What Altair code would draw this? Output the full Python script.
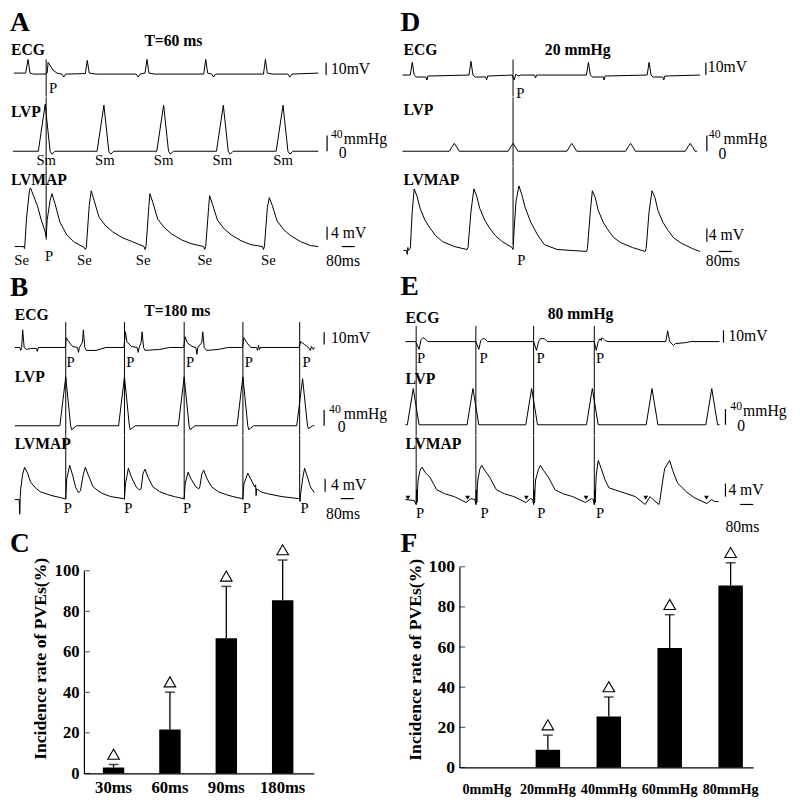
import altair as alt
import pandas as pd

S = 0.98                 # reference-pixel -> page-pixel factor
FONT = "Liberation Serif"
T_DOM = [0, 2400]        # ms across one column
COL_W = 400 * S

# ---------------- trace data (time in ms, ECG/LVMAP in mV, LVP in mmHg) ----------------
A_ECG_T = [36,108,123,135,156,228,240,246,258,276,300,330,342,354,474,486,498,540,786,798,810,840,852,864,900,1200,1212,1224,1248,1260,1272,1566,1578,1590,1620,1716,1728,1740,1902]
A_ECG_V = [0,0,11.2,0,-0.8,-0.8,0,8.8,6.4,2.4,0,-0.8,-3.2,-0.8,-0.4,10.4,0,-0.8,-0.8,-3.2,-0.8,0,11.2,0,-0.8,-0.8,11.2,0,-0.8,-3.2,-0.8,-0.8,11.2,0,-0.8,-0.8,-3.2,-0.8,0]
A_LVP_T = [30,186,228,258,270,288,546,588,618,630,648,912,954,984,996,1014,1278,1320,1350,1362,1380,1644,1686,1716,1728,1746,1902]
A_LVP_V = [0,0,120,0,-7.5,0,0,117.5,0,-7.5,0,0,117.5,0,-7.5,0,0,117.5,0,-7.5,0,0,117.5,0,-7.5,0,0]
A_MAP_T = [42,96,102,114,132,138,156,180,204,228,234,240,258,270,288,318,360,402,468,474,480,498,510,528,558,600,642,702,762,834,840,846,864,870,888,918,960,1002,1062,1122,1200,1206,1212,1230,1236,1254,1284,1326,1368,1428,1488,1560,1566,1572,1590,1602,1620,1650,1692,1734,1794,1854,1902]
A_MAP_V = [0,0,-0.6,9,17.4,18,15.6,12.6,8.1,4.5,3,8.1,14.1,16.2,13.2,7.5,3.6,1.5,-0.3,-0.9,-0.3,12.6,17.1,14.1,9,6.3,4.5,2.7,1.5,0,-0.9,0,12.6,16.2,13.5,8.4,5.7,3.9,2.1,0.9,0,-0.9,0,12,15.6,12.9,8.1,5.4,3.6,1.8,0.6,0,-0.9,0,12,15,12.6,7.8,5.1,3.3,1.5,0.3,0]

B_ECG_T = [42,72,78,84,90,99,114,138,174,180,186,351,357,372,396,426,432,438,456,462,471,480,540,600,711,720,729,756,792,798,804,816,822,831,840,930,990,1077,1086,1098,1128,1152,1158,1164,1188,1194,1203,1218,1290,1350,1437,1446,1464,1488,1524,1530,1536,1542,1548,1785,1794,1818,1842,1854,1860,1872,1878]
B_ECG_V = [0,0,-2.4,0,14.4,0,-1.6,-0.8,-0.8,-3.2,0,0,8,4.8,0.8,0,-4,0,4,14.4,0,-2.4,-2.4,0,0,12.8,4.8,0.8,0,-4,0,4,12.8,0,-2.4,-1.6,0,0,8.8,4,0.8,0,-5.6,0,4,12.8,0,-2.4,-1.6,0,0,8,4,0,0,-2.4,1.6,-1.6,0,0,4.8,2.4,0,-2.4,0.8,-1.6,0]
B_LVP_T = [42,318,354,384,390,420,678,714,744,750,780,1044,1080,1110,1116,1146,1404,1440,1470,1476,1506,1770,1806,1836,1842,1866,1878]
B_LVP_V = [0,0,125,0,-10,0,0,125,0,-10,0,0,125,0,-10,0,0,125,0,-10,0,0,120,0,-7.5,0,0]
B_MAP_T = [42,69,72,75,78,90,102,120,138,168,198,270,348,354,360,378,396,414,432,444,462,474,492,522,552,582,630,708,714,720,738,756,786,804,816,828,840,858,888,930,978,1020,1074,1080,1086,1104,1122,1152,1170,1176,1188,1200,1218,1248,1290,1338,1380,1434,1440,1446,1470,1488,1512,1518,1521,1524,1548,1590,1680,1782,1788,1791,1794,1806,1818,1836,1854,1878]
B_MAP_V = [-0.3,-0.3,-4.8,0.6,3,7.5,9.6,7.8,5.1,3.3,2.1,0.9,0,0,6,10.2,7.2,3.6,1.8,2.4,7.5,9.6,7.2,3.6,2.4,1.5,0.6,0,0,4.5,9.3,6.6,3.6,2.7,3,7.8,9,6.6,3.6,2.1,1.2,0.6,0,0,4.5,8.1,6,3.6,3,3.6,7.5,8.7,6.3,3.6,2.1,1.2,0.6,0,0,4.5,7.8,6,3.6,4.2,0.9,3,2.1,1.5,0.6,0,0,-0.9,1.5,6,9.3,6.6,3.6,1.8]

D_ECG_T = [12,60,72,84,96,156,162,168,420,432,444,456,522,528,534,684,696,708,720,738,822,828,834,1140,1152,1164,1176,1242,1248,1254,1512,1524,1536,1548,1608,1614,1620,1836]
D_ECG_V = [0,0,10.4,0,-1.6,-1.6,-4,-0.8,0,11.2,0,-1.6,-1.6,-4,-0.8,0,-4,0.8,-0.8,0,0,-2.4,0,0,10.4,0,-1.6,-1.6,-4,-0.8,0,10.4,0,-1.6,-1.6,-4,-0.8,0]
D_LVP_T = [12,300,318,330,342,360,660,678,690,702,720,1020,1038,1050,1062,1080,1380,1398,1410,1422,1440,1746,1764,1776,1788,1806,1818]
D_LVP_V = [0,0,12.5,20,12.5,0,0,12.5,20,12.5,0,0,12.5,20,12.5,0,0,12.5,20,12.5,0,0,12.5,20,12.5,0,0]
D_MAP_T = [18,36,42,45,48,60,72,84,102,120,150,180,216,258,330,408,414,432,450,468,486,516,546,582,624,684,690,696,708,726,744,762,798,840,882,960,1140,1146,1164,1176,1194,1212,1242,1272,1308,1350,1422,1500,1506,1524,1542,1560,1578,1608,1638,1674,1716,1788,1836]
D_MAP_V = [0,0,-1.2,0.9,0,0.6,12,18.9,16.5,12.9,9.3,6.9,4.5,2.7,1.2,0.3,0.9,12,18.9,16.5,12.9,9.3,6.9,4.5,2.7,0.9,0.3,6,15,19.8,17.1,13.5,8.7,4.8,1.8,0.3,-0.3,0.6,12,18.3,16.2,12.3,8.7,6.3,3.9,2.4,0.9,-0.3,0.6,12,18.3,16.2,12.3,8.7,6.3,3.9,2.4,0.6,-0.3]

E_ECG_T = [30,90,96,114,126,138,150,168,462,480,492,504,516,534,816,834,846,858,882,900,1188,1200,1212,1224,1230,1236,1254,1272,1626,1638,1650,1674,1686,1752,1776,1956]
E_ECG_V = [0,0,-0.8,-6.4,1.6,3.2,2.4,0,0,-6.4,0.8,2.4,2.4,0,0,-7.2,0,2.4,2.4,0,0,-7.2,0,2.4,0.8,3.2,0.8,0,0,8.8,0,-3.2,-1.6,-0.8,0,0]
E_LVP_T = [30,42,78,114,408,444,480,768,804,840,1140,1176,1212,1506,1542,1578,1872,1908,1944,1956]
E_LVP_V = [0,0,92.5,0,0,92.5,0,0,92.5,0,0,92.5,0,0,92.5,0,0,92.5,0,0]
E_MAP_T = [30,84,96,99,102,105,108,120,132,150,180,222,270,330,402,432,456,462,465,468,471,474,486,498,516,546,588,636,696,768,798,810,816,819,822,825,828,846,858,876,906,948,996,1056,1134,1170,1182,1188,1191,1194,1197,1200,1212,1230,1254,1278,1350,1440,1500,1530,1548,1584,1590,1608,1620,1650,1668,1698,1752,1800,1878,1908,1926,1950]
E_MAP_V = [0,-0.3,-1.5,3,-0.9,3.6,6,9,9.9,8.4,6.9,3,1.8,0.9,-0.9,0.3,0,-1.5,3,-0.9,3.6,6,9.3,10.5,9,6.9,3,1.8,0.9,-0.9,0.3,0,-1.5,3,-0.9,3.6,6,9.3,10.5,9,6.9,3,1.8,0.9,-0.9,0.3,0,-1.5,3,-0.9,4.2,7.5,12,9.6,6,3.6,2.4,0.9,-1.5,0.9,0,-1.5,-0.3,6,9.6,12,9,5.1,2.4,0.6,-1.2,0,-0.6,-0.6]
E_ARROW_T = [42,408,768,1134,1500,1872]
E_ARROW_V = [0.9,0.9,0.9,0.9,0.9,0.9]

# pacing marker times (ms)
A_PACE = [234]
B_PACE = [354,714,1080,1440,1788]
D_PACE = [690]
E_PACE = [96,462,816,1188]

# ---------------- bar data ----------------
C_CATS = ["30ms", "60ms", "90ms", "180ms"]
C_MEAN = [2.9, 21.7, 66.7, 85.5]
C_ERR = [1.5, 18.4, 25.6, 19.8]
C_SIG = [True, True, True, True]

F_CATS = ["0mmHg", "20mmHg", "40mmHg", "60mmHg", "80mmHg"]
F_MEAN = [0, 8.8, 25.4, 59.5, 90.7]
F_ERR = [0, 7.3, 9.7, 16.6, 11.3]
F_SIG = [False, True, True, True, True]

Y_TICKS = [0, 20, 40, 60, 80, 100]
Y_TITLE = "Incidence rate of PVEs(%)"

STYLES = {
    "letter": dict(fontSize=28, fontWeight="bold", align="left"),
    "label": dict(fontSize=16, fontWeight="bold", align="left"),
    "title": dict(fontSize=16, fontWeight="bold", align="center"),
    "ann": dict(fontSize=15, fontWeight="normal", align="center"),
    "unit": dict(fontSize=16, fontWeight="normal", align="left"),
    "sup": dict(fontSize=12, fontWeight="normal", align="left"),
    "zero": dict(fontSize=16, fontWeight="normal", align="center"),
}


def xenc(field="t"):
    return alt.X(f"{field}:Q", scale=alt.Scale(domain=T_DOM, nice=False, zero=False), axis=None)


def yenc(dom, field="v"):
    return alt.Y(f"{field}:Q", scale=alt.Scale(domain=dom, nice=False, zero=False), axis=None)


def row(geom, trace, pace=(), vtop=None, vbot=None, vbar=None, hbar=None, texts=(), arrows=None):
    top, bottom, base, upp = geom
    dom = [-(bottom - base) * upp, (base - top) * upp]
    T, V = trace
    layers = []
    df = pd.DataFrame({"t": T, "v": V, "i": list(range(len(T)))})
    layers.append(alt.Chart(df).mark_line(color="black", strokeWidth=1, clip=False)
                  .encode(x=xenc(), y=yenc(dom), order="i:Q"))
    if pace:
        y1 = dom[1] if vtop is None else vtop
        y2 = dom[0] if vbot is None else vbot
        pdf = pd.DataFrame({"t": list(pace), "v": [y1] * len(pace), "v2": [y2] * len(pace)})
        layers.append(alt.Chart(pdf).mark_rule(color="black", strokeWidth=1)
                      .encode(x=xenc(), y=yenc(dom), y2="v2:Q"))
    if vbar:
        bdf = pd.DataFrame({"t": [vbar[0]], "v": [vbar[1]], "v2": [vbar[2]]})
        layers.append(alt.Chart(bdf).mark_rule(color="black", strokeWidth=1.2)
                      .encode(x=xenc(), y=yenc(dom), y2="v2:Q"))
    if hbar:
        hdf = pd.DataFrame({"t": [hbar[0]], "t2": [hbar[1]], "v": [hbar[2]]})
        layers.append(alt.Chart(hdf).mark_rule(color="black", strokeWidth=1.2)
                      .encode(x=xenc(), x2="t2:Q", y=yenc(dom)))
    if arrows:
        adf = pd.DataFrame({"t": arrows[0], "v": arrows[1]})
        layers.append(alt.Chart(adf).mark_point(shape="triangle-left", filled=True, color="black",
                                                size=22, angle=30, opacity=1)
                      .encode(x=xenc(), y=yenc(dom)))
    groups = {}
    for st, t, v, txt in texts:
        groups.setdefault(st, []).append((t, v, txt))
    for st, items in groups.items():
        sty = STYLES[st]
        tdf = pd.DataFrame({"t": [a[0] for a in items], "v": [a[1] for a in items],
                            "txt": [a[2] for a in items]})
        layers.append(alt.Chart(tdf).mark_text(font=FONT, fontSize=sty["fontSize"] * S,
                                               fontWeight=sty["fontWeight"], align=sty["align"],
                                               baseline="middle", color="black")
                      .encode(x=xenc(), y=yenc(dom), text="txt:N"))
    return alt.layer(*layers).properties(width=COL_W, height=(bottom - top) * S)


def bar_panel(cats, mean, err, sig, spacer_w, width, height, pin, pout, align,
              ylab_size, xlab_size, xlab_pad, title_x, title_y):
    df = pd.DataFrame({"cat": cats, "mean": mean, "err": err, "sig": sig})
    df["hi"] = df["mean"] + df["err"]
    x = alt.X("cat:N", sort=cats,
              scale=alt.Scale(paddingInner=pin, paddingOuter=pout, align=align),
              axis=alt.Axis(title=None, labelAngle=0, ticks=False, labelFont=FONT,
                            labelFontSize=xlab_size, labelFontWeight="bold", labelColor="black",
                            labelPadding=xlab_pad, domainColor="black", domainWidth=1.2,
                            grid=False))
    yscale = alt.Scale(domain=[0, 100], nice=False, zero=True)
    y = alt.Y("mean:Q", scale=yscale,
              axis=alt.Axis(values=Y_TICKS, ticks=False, grid=False, labelFont=FONT,
                            labelFontSize=ylab_size, labelFontWeight="bold", labelColor="black",
                            labelPadding=5 * S, domainColor="black", domainWidth=1.2,
                            title=Y_TITLE, titleFont=FONT, titleFontSize=18 * S,
                            titleFontWeight="bold", titleColor="black", titleAngle=270,
                            titleX=title_x, titleY=title_y, titleAlign="center",
                            titleBaseline="middle"))
    base = alt.Chart(df)
    bars = base.mark_bar(color="black").encode(x=x, y=y)
    errs = base.transform_filter("datum.err > 0").mark_rule(color="black", strokeWidth=1.3).encode(
        x=x, y=alt.Y("mean:Q", scale=yscale), y2="hi:Q")
    caps = base.transform_filter("datum.err > 0").mark_tick(
        orient="horizontal", color="black", thickness=1.5, size=10 * S).encode(
        x=x, y=alt.Y("hi:Q", scale=yscale))
    tris = base.transform_filter("datum.sig").mark_point(
        shape="triangle-up", filled=False, color="black", strokeWidth=1.1,
        size=140 * S * S, yOffset=-10.5 * S, opacity=1).encode(
        x=x, y=alt.Y("hi:Q", scale=yscale))
    tdf = pd.DataFrame({"val": Y_TICKS})
    ticks = alt.Chart(tdf).mark_tick(orient="horizontal", color="black", thickness=1,
                                     size=6 * S).encode(
        y=alt.Y("val:Q", scale=yscale), x=alt.value(3 * S))
    panel = alt.layer(bars, errs, caps, tris, ticks).properties(width=width, height=height)
    spacer = alt.Chart(pd.DataFrame({"a": [0]})).mark_point(opacity=0).encode(
        x=alt.X("a:Q", axis=None), y=alt.Y("a:Q", axis=None)).properties(
        width=spacer_w, height=height)
    return alt.hconcat(spacer, panel, spacing=0, bounds="flush")


# ---------------- geometry: (top, bottom, baseline, units per ref px) ----------------
G_A = [(0, 90, 66, 0.8), (90, 160, 145, 2.5), (160, 265, 242, 0.3)]
G_B = [(265, 365, 345, 0.8), (365, 435, 425, 2.5), (435, 572, 499, 0.3)]
G_D = [(0, 90, 68, 0.8), (90, 160, 145, 2.5), (160, 265, 246, 0.3)]
G_E = [(265, 365, 339, 0.8), (365, 435, 424, 2.5), (435, 568, 500, 0.3)]

A_rows = [
    row(G_A[0], (A_ECG_T, A_ECG_V), A_PACE, vtop=11.2, vbar=(1950, -1.6, 8.4),
        texts=[("letter", 12, 41.2, "A"), ("label", 18, 19.2, "ECG"),
               ("title", 1014, 26.4, "T=60 ms"), ("ann", 276, -12.8, "P"),
               ("unit", 1980, 3.2, "10mV")]),
    row(G_A[1], (A_LVP_T, A_LVP_V), A_PACE, vbar=(1956, 0, 40),
        texts=[("label", 18, 100, "LVP")] +
              [("ann", t, -25, "Sm") for t in [234, 594, 954, 1314, 1686]] +
              [("sup", 1980, 45, "40"), ("unit", 2058, 30, "mmHg"), ("zero", 2052, -5, "0")]),
    row(G_A[2], (A_MAP_T, A_MAP_V), A_PACE, vbot=2.1, vbar=(1956, 2.1, 6.1),
        hbar=(2046, 2126, 0),
        texts=[("label", 18, 20.4, "LVMAP"), ("ann", 252, -3.3, "P"),
               ("unit", 1980, 4.2, "4 mV"), ("unit", 1950, -4.5, "80ms")] +
              [("ann", t, -4.5, "Se") for t in [84, 468, 828, 1206, 1596]]),
]
B_rows = [
    row(G_B[0], (B_ECG_T, B_ECG_V), B_PACE, vtop=20.8, vbar=(1938, 2.4, 12.4),
        texts=[("letter", 12, 48.8, "B"), ("label", 42, 26.4, "ECG"),
               ("title", 1038, 29.6, "T=180 ms"), ("unit", 1980, 8, "10mV")] +
              [("ann", t, -12.8, "P") for t in [384, 750, 1116, 1476, 1830]]),
    row(G_B[1], (B_LVP_T, B_LVP_V), B_PACE, vbar=(1938, 0, 40),
        texts=[("label", 42, 125, "LVP"), ("sup", 1968, 42.5, "40"),
               ("unit", 2058, 30, "mmHg"), ("zero", 2046, -2.5, "0")]),
    row(G_B[2], (B_MAP_T, B_MAP_V), B_PACE, vbot=-0.3, vbar=(1944, 2.1, 6.1),
        hbar=(2040, 2120, 0),
        texts=[("label", 42, 16.8, "LVMAP"), ("unit", 1980, 4.2, "4 mV"),
               ("unit", 1950, -4.8, "80ms"), ("letter", 12, -13.8, "C")] +
              [("ann", t, -3.3, "P") for t in [366, 738, 1098, 1464, 1818]]),
]
D_rows = [
    row(G_D[0], (D_ECG_T, D_ECG_V), D_PACE, vtop=12.8, vbar=(1872, 0, 10),
        texts=[("letter", 0, 42.8, "D"), ("label", 18, 20.8, "ECG"),
               ("title", 1086, 20.8, "20 mmHg"), ("ann", 735, -15.2, "P"),
               ("unit", 1884, 6.4, "10mV")]),
    row(G_D[1], (D_LVP_T, D_LVP_V), D_PACE, vbar=(1878, 0, 40),
        texts=[("label", 18, 105, "LVP"), ("sup", 1890, 45, "40"),
               ("unit", 1980, 30, "mmHg"), ("zero", 1974, -7.5, "0")]),
    row(G_D[2], (D_MAP_T, D_MAP_V), D_PACE, vbot=1.8, vbar=(1878, 2.7, 6.7),
        hbar=(1950, 2030, -0.3),
        texts=[("label", 18, 21.6, "LVMAP"), ("ann", 741, -3.3, "P"),
               ("unit", 1890, 4.8, "4 mV"), ("unit", 1872, -3.3, "80ms")]),
]
E_rows = [
    row(G_E[0], (E_ECG_T, E_ECG_V), E_PACE, vtop=12.8, vbar=(1980, -0.8, 9.2),
        texts=[("letter", 0, 44.8, "E"), ("label", 30, 19.2, "ECG"),
               ("title", 1104, 22.4, "80 mmHg"), ("unit", 2010, 4.8, "10mV")] +
              [("ann", t, -14.4, "P") for t in [126, 510, 858, 1224]]),
    row(G_E[1], (E_LVP_T, E_LVP_V), E_PACE, vbar=(1992, 0, 40),
        texts=[("label", 30, 117.5, "LVP"), ("sup", 2022, 47.5, "40"),
               ("unit", 2100, 35, "mmHg"), ("zero", 2088, -2.5, "0")]),
    row(G_E[2], (E_MAP_T, E_MAP_V), E_PACE, vbot=-1.5, vbar=(1992, 0.9, 4.9),
        hbar=(2082, 2162, -1.5), arrows=(E_ARROW_T, E_ARROW_V),
        texts=[("label", 30, 17.1, "LVMAP"), ("unit", 2010, 3, "4 mV"),
               ("unit", 1992, -8.4, "80ms"), ("letter", 0, -13.5, "F")] +
              [("ann", t, -4.5, "P") for t in [120, 516, 864, 1224]]),
]

C_panel = bar_panel(C_CATS, C_MEAN, C_ERR, C_SIG, spacer_w=77 * S, width=235 * S,
                    height=207 * S, pin=0.62, pout=0.35, align=0.48,
                    ylab_size=17 * S, xlab_size=17 * S, xlab_pad=6 * S,
                    title_x=-44 * S, title_y=89.5 * S)
F_panel = bar_panel(F_CATS, F_MEAN, F_ERR, F_SIG, spacer_w=60 * S, width=300 * S,
                    height=205 * S, pin=0.598, pout=0.209, align=0.6,
                    ylab_size=18 * S, xlab_size=14.5 * S, xlab_pad=15 * S,
                    title_x=-45 * S, title_y=94.5 * S)

left = alt.vconcat(*A_rows, *B_rows, C_panel, spacing=0, bounds="flush")
right = alt.vconcat(*D_rows, *E_rows, F_panel, spacing=0, bounds="flush")

chart = alt.hconcat(left, right, spacing=0, padding=0).configure_view(strokeWidth=0)

chart.save("out.html", embed_options={"renderer": "svg", "actions": False})
